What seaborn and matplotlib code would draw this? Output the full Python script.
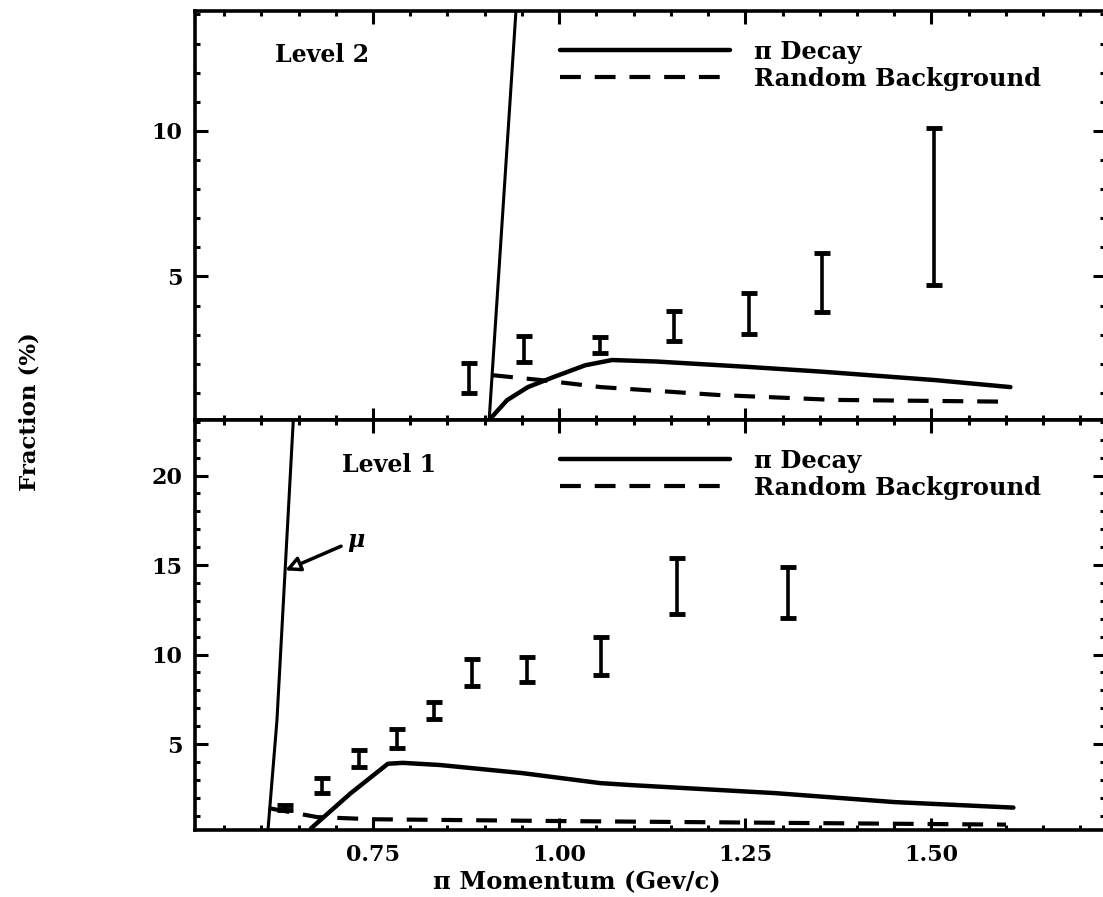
import numpy as np
import pandas as pd
import matplotlib
matplotlib.use("Agg")
import matplotlib.pyplot as plt
import seaborn as sns
from matplotlib.ticker import MultipleLocator, FixedLocator
from matplotlib.lines import Line2D

# ---------------- data ----------------
# Level 2 (upper panel)
l2_err_x = [0.879, 0.953, 1.055, 1.154, 1.255, 1.353, 1.504]
l2_err_lo = [1.0, 2.06, 2.37, 2.78, 3.02, 3.78, 4.7]
l2_err_hi = [2.03, 2.96, 2.92, 3.81, 4.43, 5.8, 10.1]
l2_decay_x = [0.906, 0.93, 0.958, 0.993, 1.035, 1.071, 1.13, 1.25, 1.353, 1.505, 1.606]
l2_decay_y = [0.07, 0.75, 1.2, 1.55, 1.95, 2.13, 2.08, 1.9, 1.73, 1.44, 1.2]
l2_bg_x = [0.91, 0.976, 1.056, 1.213, 1.37, 1.598]
l2_bg_y = [1.61, 1.44, 1.2, 0.93, 0.76, 0.7]
l2_mu_x = [0.906, 0.942]
l2_mu_y = [0.07, 14.12]

# Level 1 (lower panel)
l1_err_x = [0.632, 0.682, 0.731, 0.782, 0.832, 0.883, 0.957, 1.056, 1.158, 1.307]
l1_err_lo = [1.3, 2.26, 3.7, 4.77, 6.4, 8.24, 8.46, 8.85, 12.26, 12.04]
l1_err_hi = [1.6, 3.1, 4.66, 5.83, 7.35, 9.75, 9.86, 10.98, 15.4, 14.9]
l1_decay_x = [0.667, 0.72, 0.77, 0.79, 0.84, 0.95, 1.055, 1.10, 1.29, 1.45, 1.61]
l1_decay_y = [0.3, 2.25, 3.9, 3.95, 3.83, 3.38, 2.82, 2.7, 2.26, 1.76, 1.45]
l1_bg_x = [0.61, 0.675, 0.75, 1.0, 1.3, 1.6]
l1_bg_y = [1.42, 0.92, 0.8, 0.7, 0.6, 0.5]
l1_mu_x = [0.609, 0.621, 0.632, 0.643]
l1_mu_y = [0.2, 6.3, 14.7, 23.1]

x_major_ticks = [0.75, 1.00, 1.25, 1.50]
x_tick_labels = ["0.75", "1.00", "1.25", "1.50"]
legend_labels = ["π Decay", "Random Background"]

# ---------------- style ----------------
sns.set_style("ticks")
plt.rcParams["font.family"] = ["DejaVu Serif"]
plt.rcParams["font.weight"] = "bold"
plt.rcParams["lines.scale_dashes"] = False
for key in ["text.color", "axes.labelcolor", "xtick.color", "ytick.color",
            "axes.edgecolor", "xtick.labelcolor", "ytick.labelcolor"]:
    plt.rcParams[key] = "black"

DASH = (0, (15, 10))

fig = plt.figure(figsize=(11.03, 8.97), dpi=100)
ax_top = fig.add_axes([195 / 1103, 1 - 420 / 897, 910 / 1103, 409 / 897])
ax_bot = fig.add_axes([195 / 1103, 1 - 830 / 897, 910 / 1103, 410 / 897], sharex=ax_top)


def draw_panel(ax, ex, elo, ehi, dx, dy, bx, by, mx, my):
    elo = np.asarray(elo); ehi = np.asarray(ehi)
    mid = (elo + ehi) / 2
    half = (ehi - elo) / 2
    ax.errorbar(ex, mid, yerr=half, fmt="none", ecolor="black",
                elinewidth=2.6, capsize=5.5, capthick=3.5, zorder=3)
    sns.lineplot(x=dx, y=dy, ax=ax, sort=False, estimator=None,
                 color="black", lw=3.2, solid_capstyle="round")
    sns.lineplot(x=bx, y=by, ax=ax, sort=False, estimator=None,
                 color="black", lw=3.0, linestyle=DASH)
    sns.lineplot(x=mx, y=my, ax=ax, sort=False, estimator=None,
                 color="black", lw=2.2)


draw_panel(ax_top, l2_err_x, l2_err_lo, l2_err_hi, l2_decay_x, l2_decay_y,
           l2_bg_x, l2_bg_y, l2_mu_x, l2_mu_y)
draw_panel(ax_bot, l1_err_x, l1_err_lo, l1_err_hi, l1_decay_x, l1_decay_y,
           l1_bg_x, l1_bg_y, l1_mu_x, l1_mu_y)

ax_top.set_xlim(0.511, 1.733)
ax_top.set_ylim(0.07, 14.12)
ax_bot.set_ylim(0.2, 23.1)

for ax in (ax_top, ax_bot):
    for s in ax.spines.values():
        s.set_linewidth(2.6)
        s.set_visible(True)
        s.set_color("black")
    ax.xaxis.set_major_locator(FixedLocator(x_major_ticks))
    ax.xaxis.set_minor_locator(MultipleLocator(0.05))
    ax.yaxis.set_major_locator(MultipleLocator(5))
    ax.yaxis.set_minor_locator(MultipleLocator(1))
    ax.tick_params(which="both", direction="in", top=True, right=True,
                   bottom=True, left=True, width=2.2, color="black",
                   labelcolor="black")
    ax.tick_params(which="major", length=9)
    ax.tick_params(which="minor", length=3.5)
    ax.tick_params(axis="y", labelsize=16, pad=9)
    ax.tick_params(axis="x", labelsize=16, pad=10)
    ax.set_xlabel("")
    ax.set_ylabel("")
    handles = [Line2D([], [], color="black", lw=3.2),
               Line2D([], [], color="black", lw=3.0, linestyle=DASH)]
    ax.legend(handles, legend_labels, loc="upper left",
              bbox_to_anchor=(0.401, 0.93), frameon=False, handlelength=7.0,
              handletextpad=1.0, borderpad=0, borderaxespad=0,
              labelspacing=0.12, fontsize=17.5)

ax_top.set_yticks([5, 10])
ax_top.set_yticklabels(["5", "10"])
ax_bot.set_yticks([5, 10, 15, 20])
ax_bot.set_yticklabels(["5", "10", "15", "20"])
plt.setp(ax_top.get_xticklabels(), visible=False)
ax_bot.set_xticks(x_major_ticks)
ax_bot.set_xticklabels(x_tick_labels)

ax_top.text(0.618, 12.6, "Level 2", ha="left", va="center", fontsize=17,
            fontweight="bold")
ax_bot.text(0.708, 20.6, "Level 1", ha="left", va="center", fontsize=17,
            fontweight="bold")

ax_bot.annotate("μ", xy=(l1_mu_x[2], l1_mu_y[2]), xytext=(0.715, 16.4),
                fontsize=17, fontstyle="italic", fontweight="bold",
                ha="left", va="center",
                arrowprops=dict(arrowstyle="-|>", lw=2.5, color="black",
                                fc="white", mutation_scale=22,
                                shrinkA=2, shrinkB=0))

ax_bot.set_xlabel("π Momentum (Gev/c)", fontsize=17.5, fontweight="bold")
ax_bot.xaxis.set_label_coords(0.42, -0.097)
ax_bot.set_ylabel("Fraction (%)", fontsize=16.5, fontweight="bold")
ax_bot.yaxis.set_label_coords(-0.170, 1.02)

fig.savefig("out.png", dpi=100)
